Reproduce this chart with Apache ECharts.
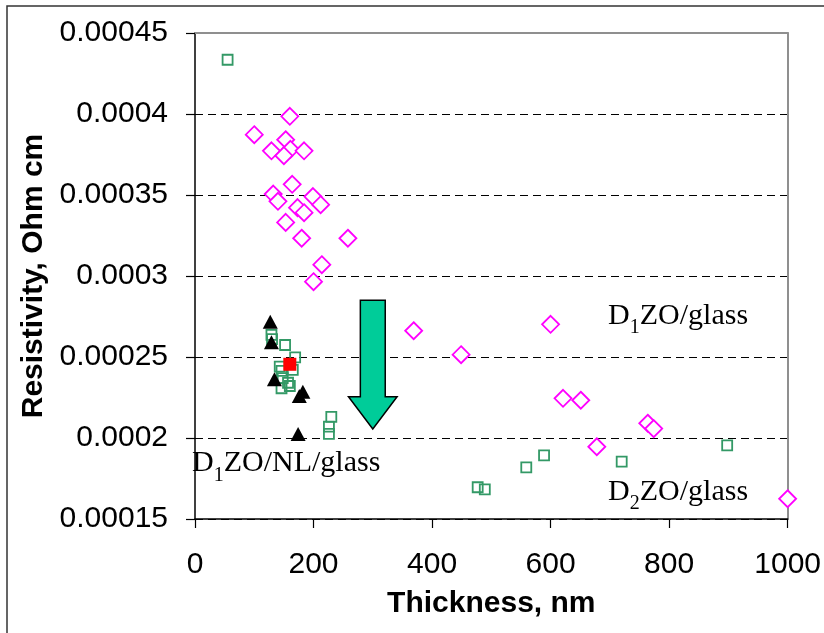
<!DOCTYPE html>
<html>
<head>
<meta charset="utf-8">
<script src="https://cdn.jsdelivr.net/npm/echarts@6/dist/echarts.min.js"></script>
<style>
  html, body { margin: 0; padding: 0; background: #fff; overflow: hidden; }
  #chart { width: 824px; height: 633px; }
</style>
</head>
<body>
<div id="chart"></div>
<script>
// Resistivity versus film thickness for the three film types

// D1ZO/glass (open magenta diamonds): [thickness nm, resistivity Ohm cm]
const d1zoGlass = [
  [160, 0.0003986], [100, 0.0003872], [153, 0.0003841], [129, 0.0003773],
  [161, 0.0003782], [184, 0.0003773], [150, 0.0003743], [164, 0.0003566],
  [132, 0.0003506], [140, 0.0003461], [199, 0.0003490], [212, 0.0003440],
  [173, 0.0003422], [184, 0.0003391], [153, 0.0003331], [180, 0.0003233],
  [258, 0.0003233], [214, 0.0003070], [200, 0.0002965], [369, 0.0002662],
  [600, 0.0002702], [449, 0.0002514], [621, 0.0002245], [651, 0.0002233],
  [764, 0.0002091], [774, 0.0002058], [678, 0.0001946], [1000, 0.0001625]
];

// D2ZO/glass (open green squares)
const d2zoGlass = [
  [55, 0.0004335], [129, 0.0002636], [130, 0.0002610], [152, 0.0002574],
  [169, 0.0002498], [143, 0.0002440], [146, 0.0002414], [165, 0.0002420],
  [148, 0.0002369], [157, 0.0002341], [160, 0.0002321], [146, 0.0002307],
  [230, 0.0002131], [226, 0.0002070], [226, 0.0002025], [477, 0.0001696],
  [489, 0.0001683], [559, 0.0001819], [589, 0.0001893], [720, 0.0001854],
  [898, 0.0001955]
];

// D1ZO/NL/glass (filled black triangles)
const d1zoNlGlass = [
  [127, 0.0002718], [129, 0.0002591], [134, 0.0002362],
  [182, 0.0002286], [176, 0.0002259], [174, 0.0002025]
];

// Highlighted sample (filled red square)
const highlighted = [[160, 0.0002455]];

// Axis ranges and ticks
const xRange = [0, 1000], xStep = 200;
const yRange = [0.00015, 0.00045], yStep = 0.00005;

// Downward arrow annotation, in data units
const arrowX = 300, arrowShaftHalf = 21, arrowHeadHalf = 41;
const arrowTop = 0.000285, arrowHeadBase = 0.0002255, arrowTip = 0.0002056;

// Text annotations: [label main, subscript, rest, left x, baseline y]
const annotations = [
  ['D', '1', 'ZO/glass', 697, 0.0002691],
  ['D', '2', 'ZO/glass', 697, 0.0001607],
  ['D', '1', 'ZO/NL/glass', -5, 0.0001782]
];

const sansFont = '"Liberation Sans", Arial, sans-serif';
const serifFont = '"Liberation Serif", "Times New Roman", serif';
const borderGray = '#8f8f8f';

const chart = echarts.init(document.getElementById('chart'), null, { renderer: 'canvas', width: 824, height: 633 });

const hiddenAxisParts = {
  axisTick: { show: false },
  axisLabel: { show: false },
  splitLine: { show: false }
};

const plainNumber = v => String(parseFloat(Number(v).toPrecision(6)));

chart.setOption({
  animation: false,
  backgroundColor: '#fff',
  grid: { left: 195, width: 595, top: 33, height: 486, containLabel: false },
  xAxis: [
    {
      type: 'value', min: xRange[0], max: xRange[1], interval: xStep,
      name: 'Thickness, nm', nameLocation: 'middle', nameGap: 70,
      nameTextStyle: { fontFamily: sansFont, fontSize: 30, fontWeight: 'bold', color: '#000' },
      axisLine: { onZero: false, lineStyle: { color: '#000', width: 1.5 } },
      axisTick: { show: true, inside: false, length: 9, lineStyle: { color: '#000', width: 1.2 } },
      axisLabel: { fontFamily: sansFont, fontSize: 30, color: '#000', margin: 31, formatter: plainNumber },
      splitLine: { show: false }
    },
    Object.assign({
      type: 'value', min: xRange[0], max: xRange[1], interval: xStep, position: 'top',
      axisLine: { onZero: false, lineStyle: { color: borderGray, width: 2 } }
    }, hiddenAxisParts)
  ],
  yAxis: [
    {
      type: 'value', min: yRange[0], max: yRange[1], interval: yStep,
      name: 'Resistivity, Ohm cm', nameLocation: 'middle', nameGap: 145,
      nameTextStyle: { fontFamily: sansFont, fontSize: 30, fontWeight: 'bold', color: '#000' },
      axisLine: { onZero: false, lineStyle: { color: '#000', width: 1.5 } },
      axisTick: { show: true, inside: false, length: 9, lineStyle: { color: '#000', width: 1.2 } },
      axisLabel: { fontFamily: sansFont, fontSize: 30, color: '#000', margin: 27, formatter: plainNumber },
      splitLine: { show: true, lineStyle: { color: '#000', width: 1, type: [8, 5] } }
    },
    Object.assign({
      type: 'value', min: yRange[0], max: yRange[1], interval: yStep, position: 'right',
      axisLine: { onZero: false, lineStyle: { color: borderGray, width: 2 } }
    }, hiddenAxisParts)
  ],
  series: [
    {
      name: 'D1ZO/glass', type: 'scatter', data: d1zoGlass,
      symbol: 'diamond', symbolSize: 17,
      itemStyle: { color: '#fff', opacity: 1, borderColor: '#ff00ff', borderWidth: 1.8 }
    },
    {
      name: 'D2ZO/glass', type: 'scatter', data: d2zoGlass,
      symbol: 'rect', symbolSize: 10,
      itemStyle: { color: 'rgba(255,255,255,0)', opacity: 1, borderColor: '#339966', borderWidth: 1.8 }
    },
    {
      name: 'D1ZO/NL/glass', type: 'scatter', data: d1zoNlGlass,
      symbol: 'triangle', symbolSize: [15, 14],
      itemStyle: { color: '#000', opacity: 1 }
    },
    {
      name: 'highlighted', type: 'scatter', data: highlighted,
      symbol: 'rect', symbolSize: 13,
      itemStyle: { color: '#ff0000', opacity: 1 }
    }
  ]
});

// Annotations placed from data coordinates
const toPx = p => chart.convertToPixel({ gridIndex: 0 }, p);

const cx = toPx([arrowX, arrowTop])[0];
const sL = toPx([arrowX - arrowShaftHalf, arrowTop])[0];
const sR = toPx([arrowX + arrowShaftHalf, arrowTop])[0];
const hL = toPx([arrowX - arrowHeadHalf, arrowTop])[0];
const hR = toPx([arrowX + arrowHeadHalf, arrowTop])[0];
const yTop = toPx([arrowX, arrowTop])[1];
const yHead = toPx([arrowX, arrowHeadBase])[1];
const yTip = toPx([arrowX, arrowTip])[1];

const graphics = [
  {
    type: 'rect', z: 0, silent: true,
    shape: { x: 7, y: 6, width: 900, height: 900 },
    style: { fill: 'none', stroke: '#333', lineWidth: 1.5 }
  },
  {
    type: 'polygon', z: 50, silent: true,
    shape: { points: [[sL, yTop], [sR, yTop], [sR, yHead], [hR, yHead], [cx, yTip], [hL, yHead], [sL, yHead]] },
    style: { fill: '#00cc99', stroke: '#000', lineWidth: 1.5 }
  }
];

annotations.forEach(([main, sub, rest, ax, ay]) => {
  const p = toPx([ax, ay]);
  graphics.push({
    type: 'text', z: 60, silent: true,
    x: p[0], y: p[1] - 25,
    style: {
      text: '{a|' + main + '}{s|' + sub + '}{a|' + rest + '}',
      verticalAlign: 'top', align: 'left',
      rich: {
        a: { fontFamily: serifFont, fontSize: 30, lineHeight: 30, fill: '#000', verticalAlign: 'top' },
        s: { fontFamily: serifFont, fontSize: 20, lineHeight: 20, fill: '#000', verticalAlign: 'top', padding: [17, 0, 0, 0] }
      }
    }
  });
});

chart.setOption({ graphic: graphics });
</script>
</body>
</html>
